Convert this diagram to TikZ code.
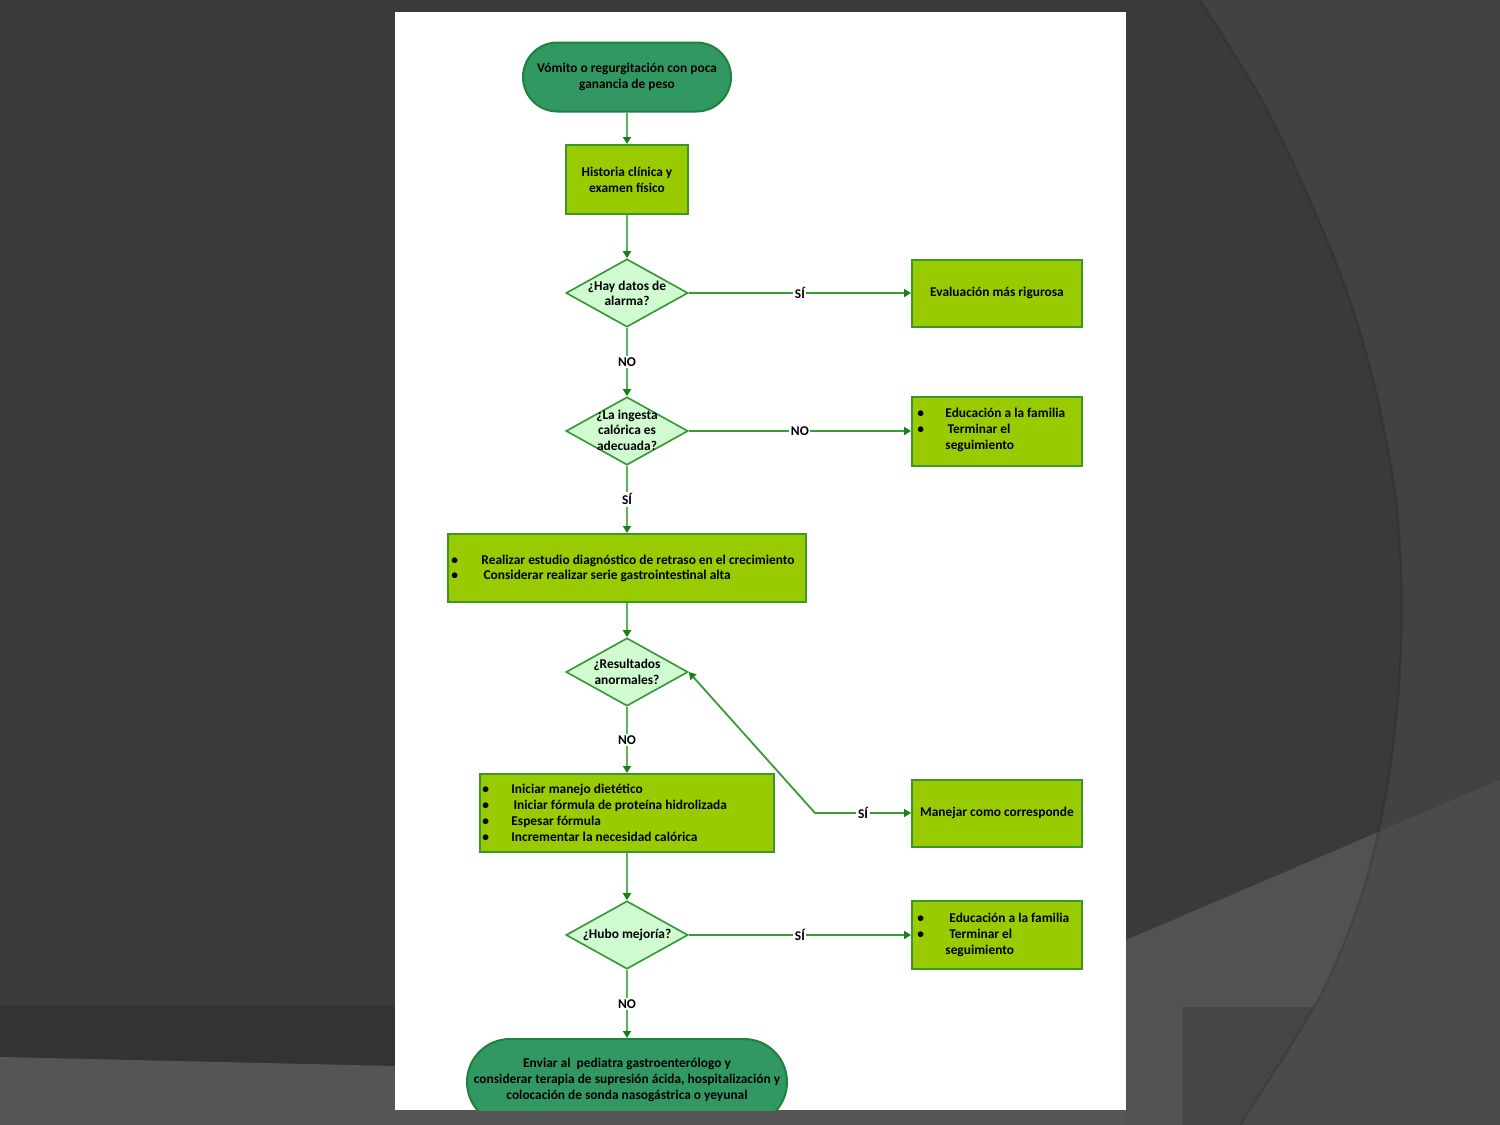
\documentclass[tikz,border=0pt]{standalone}
\usepackage{fontspec}
\setmainfont{Carlito}
\usetikzlibrary{shapes.geometric,shapes.misc,arrows.meta}
\definecolor{bgA}{HTML}{3A3A3A}
\definecolor{bgB}{HTML}{424242}
\definecolor{bgC}{HTML}{525252}
\definecolor{bgD}{HTML}{4B4B4B}
\definecolor{bgE}{HTML}{454545}
\definecolor{bgF}{HTML}{333333}
\definecolor{bgG}{HTML}{555555}
\definecolor{termfill}{RGB}{50,152,98}
\definecolor{termdraw}{RGB}{30,130,60}
\definecolor{boxfill}{RGB}{153,204,0}
\definecolor{boxdraw}{RGB}{60,150,40}
\definecolor{decfill}{RGB}{208,250,208}
\definecolor{decdraw}{RGB}{50,150,50}
\definecolor{vline}{RGB}{90,178,90}
\definecolor{hline}{RGB}{55,155,55}
\definecolor{tipc}{RGB}{20,130,20}
\tikzset{
  txt/.style={font=\fontsize{6.7}{7.8}\selectfont\bfseries, align=center, inner sep=0pt, text=black},
  bul/.style={font=\fontsize{6.7}{7.9}\selectfont\bfseries, align=left, inner sep=0pt, anchor=west, text=black},
  term/.style={rounded rectangle, fill=termfill, draw=termdraw, line width=1pt, inner sep=0pt},
  stepbox/.style={rectangle, fill=boxfill, draw=boxdraw, line width=1pt, inner sep=0pt},
  decision/.style={diamond, fill=decfill, draw=decdraw, line width=0.8pt, inner sep=0pt, minimum width=61pt, minimum height=34pt},
  tip/.style={-{Triangle[length=3.5pt,width=4pt,color=tipc,fill=tipc]}},
  vconn/.style={draw=vline, line width=1pt, tip},
  hconn/.style={draw=hline, line width=0.9pt, tip},
  lab/.style={fill=white, inner sep=0.8pt, font=\fontsize{6.7}{7}\selectfont\bfseries, text=black},
}
\newcommand{\bu}[1]{\makebox[#1][l]{•}}
\begin{document}
\begin{tikzpicture}[x=0.5pt,y=-0.5pt]
\useasboundingbox (0,0) rectangle (1500,1125);
% ---------- background ----------
\fill[bgA] (0,0) rectangle (1500,1125);
\def\arcpath{plot[smooth] coordinates {(1200,0) (1262,100) (1310,200) (1350,300) (1378,400) (1396,500) (1402,600) (1398,700) (1385,800) (1360,900) (1318,1000) (1240,1125)}}
\fill[bgB] \arcpath -- (1500,1125) -- (1500,0) -- cycle;
\fill[bgC] (1126,940) -- (1500,780) -- (1500,1125) -- (1126,1125) -- cycle;
\begin{scope}
  \clip \arcpath -- (1500,1125) -- (1500,0) -- cycle;
  \fill[bgD] (1126,940) -- (1500,780) -- (1500,1125) -- (1126,1125) -- cycle;
\end{scope}
\fill[bgE] (1183,1007) rectangle (1500,1125);
\begin{scope}
  \clip \arcpath -- (1500,1125) -- (1500,0) -- cycle;
  \fill[bgD] (1183,1007) rectangle (1500,1125);
\end{scope}
\draw[black, opacity=0.12, line width=1.2pt] \arcpath;
\fill[bgF] (0,1006) rectangle (395,1125);
\fill[bgG] (0,1057) -- (395,1066) -- (395,1125) -- (0,1125) -- cycle;
\fill[bgG] (395,1110) rectangle (1126,1125);
% ---------- page ----------
\fill[white] (395,12) rectangle (1126,1110);
% ---------- nodes ----------
\node[term, minimum width=104pt, minimum height=34.5pt] (start) at (627,77) {};
\node[txt] (startt) at (627,77) {Vómito o regurgitación con poca\\ganancia de peso};
\node[stepbox, minimum width=61pt, minimum height=34.5pt] (hist) at (627,179.5) {};
\node[txt] (histt) at (627,180) {Historia clínica y\\examen físico};
\node[decision] (d1) at (627,293) {};
\node[txt] (d1t) at (627,293.5) {¿Hay datos de\\alarma?};
\node[stepbox, minimum width=85pt, minimum height=33.5pt] (r1) at (997,293) {};
\node[txt] (r1t) at (997,293) {Evaluación más rigurosa};
\node[decision] (d2) at (627,431) {};
\node[txt] (d2t) at (627,430) {¿La ingesta\\calórica es\\adecuada?};
\node[stepbox, minimum width=85pt, minimum height=34.5pt] (r2) at (997,431) {};
\node[bul] (r2t) at (917,430) {\bu{14pt}Educación a la familia\\\bu{14pt}\,Terminar el\\\hspace*{14pt}seguimiento};
\node[stepbox, minimum width=179pt, minimum height=34pt] (b3) at (627,568) {};
\node[bul] (b3t) at (451,568.5) {\bu{15pt}Realizar estudio diagnóstico de retraso en el crecimiento\\\bu{15pt}\,Considerar realizar serie gastrointestinal alta};
\node[decision] (d3) at (627,672) {};
\node[txt] (d3t) at (627,672) {¿Resultados\\anormales?};
\node[stepbox, minimum width=147pt, minimum height=39pt] (b4) at (627,813) {};
\node[bul] (b4t) at (482,813) {\bu{14.5pt}Iniciar manejo dietético\\\bu{14.5pt}\,Iniciar fórmula de proteína hidrolizada\\\bu{14.5pt}Espesar fórmula\\\bu{14.5pt}Incrementar la necesidad calórica};
\node[stepbox, minimum width=85pt, minimum height=33.5pt] (r3) at (997,813) {};
\node[txt] (r3t) at (997,813) {Manejar como corresponde};
\node[decision] (d4) at (627,935) {};
\node[txt] (d4t) at (627,935) {¿Hubo mejoría?};
\node[stepbox, minimum width=85pt, minimum height=34pt] (r4) at (997,935) {};
\node[bul] (r4t) at (917,935) {\bu{16pt}Educación a la familia\\\bu{16pt}Terminar el\\\hspace*{14pt}seguimiento};
\begin{scope}
  \clip (395,12) rectangle (1126,1110);
  \node[term, minimum width=160pt, minimum height=43pt] (fin) at (627,1082) {};
\end{scope}
\node[txt] (fint) at (627,1080) {Enviar al\ \ pediatra gastroenterólogo y\\considerar terapia de supresión ácida, hospitalización y\\colocación de sonda nasogástrica o yeyunal};
% ---------- connectors ----------
\coordinate (cSi) at (815,813);
\draw[vconn] (start.south) -- (hist.north);
\draw[vconn] (hist.south) -- (d1.north);
\draw[hconn] (d1.east) -- node[lab] {SÍ} (r1.west);
\draw[vconn] (d1.south) -- node[lab] {NO} (d2.north);
\draw[hconn] (d2.east) -- node[lab] {NO} (r2.west);
\draw[vconn] (d2.south) -- node[lab] {SÍ} (b3.north);
\draw[vconn] (b3.south) -- (d3.north);
\draw[vconn] (d3.south) -- node[lab] {NO} (b4.north);
\draw[hconn, {Triangle[length=3.5pt,width=4pt,color=tipc,fill=tipc]}-{Triangle[length=3.5pt,width=4pt,color=tipc,fill=tipc]}] (d3.east) -- (cSi) -- node[lab] {SÍ} (r3.west);
\draw[vconn] (b4.south) -- (d4.north);
\draw[hconn] (d4.east) -- node[lab] {SÍ} (r4.west);
\draw[vconn] (d4.south) -- node[lab] {NO} (fin.north);
\end{tikzpicture}
\end{document}
